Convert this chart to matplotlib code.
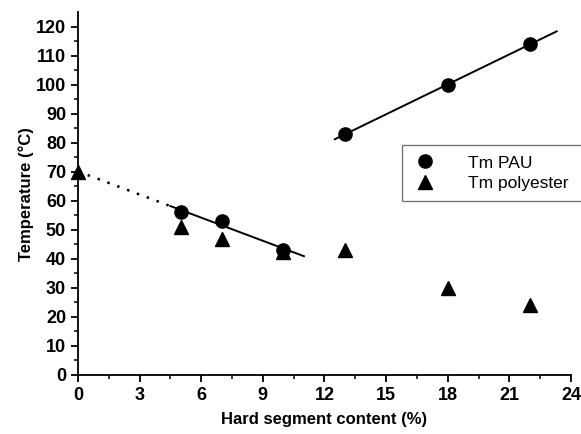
import numpy as np
import matplotlib.pyplot as plt

plt.rcParams['font.family'] = ['Liberation Sans', 'DejaVu Sans']

# data
hard_pau = [5, 7, 10, 13, 18, 22]
tm_pau = [56, 53, 43, 83, 100, 114]
hard_poly = [0, 5, 7, 10, 13, 18, 22]
tm_poly = [70, 51, 47, 42.5, 43, 30, 24]

fig = plt.figure(figsize=(5.81, 4.34), dpi=100)
ax = fig.add_axes([0.134, 0.136, 0.849, 0.836])

# linear fits for the two PAU branches
x1 = np.array(hard_pau[:3])
y1 = np.array(tm_pau[:3])
p1 = np.polyfit(x1, y1, 1)
x2 = np.array(hard_pau[3:])
y2 = np.array(tm_pau[3:])
p2 = np.polyfit(x2, y2, 1)

xs = np.array([4.5, 11])
ax.plot(xs, np.polyval(p1, xs), color='black', lw=1.4)
xd = np.array([0, 5])
ax.plot(xd, np.polyval(p1, xd), color='black', lw=1.8, linestyle=(0, (1, 3.2)))
xs2 = np.array([12.5, 23.3])
ax.plot(xs2, np.polyval(p2, xs2), color='black', lw=1.4)

ax.plot(hard_pau, tm_pau, 'o', color='black', ms=9.5, label='Tm PAU', clip_on=False)
ax.plot(hard_poly, tm_poly, '^', color='black', ms=10, label='Tm polyester', clip_on=False)

ax.set_xlim(0, 24)
ax.set_ylim(0, 125)
ax.set_xticks(np.arange(0, 25, 3))
ax.set_xticks(np.arange(0, 24.1, 1.5), minor=True)
ax.set_yticks(np.arange(0, 121, 10))
ax.set_yticks(np.arange(0, 125, 5), minor=True)

for s in ['top', 'right']:
    ax.spines[s].set_visible(False)
for s in ['left', 'bottom']:
    ax.spines[s].set_linewidth(1.3)

ax.tick_params(which='major', direction='out', length=5, width=1.3, labelsize=13)
ax.tick_params(which='minor', direction='out', length=3, width=1.1)
for lab in ax.get_xticklabels() + ax.get_yticklabels():
    lab.set_fontweight('bold')

ax.set_xlabel('Hard segment content (%)', fontsize=12, fontweight='bold', labelpad=6)
ax.set_ylabel('Temperature (°C)', fontsize=12, fontweight='bold', labelpad=1.5)

# legend box runs off the right edge like in the reference
leg = ax.legend(loc='upper left', bbox_to_anchor=(0.657, 0.634, 0.39, 0), mode='expand',
                fontsize=12.5, frameon=True, fancybox=False, edgecolor='#555555',
                borderpad=0.6, handletextpad=1.7, labelspacing=0.3, handlelength=1.5,
                borderaxespad=0)
leg.get_frame().set_linewidth(1.0)

fig.savefig('out.png', dpi=100)
